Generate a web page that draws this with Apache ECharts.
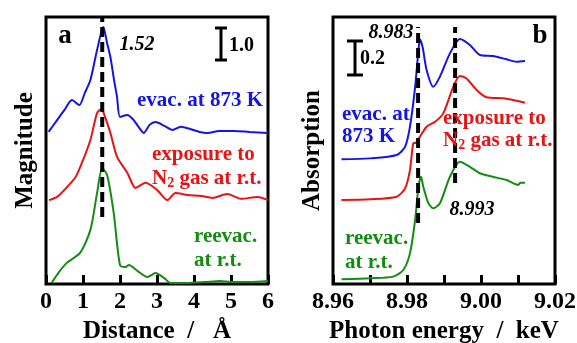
<!DOCTYPE html>
<html><head><meta charset="utf-8">
<script src="https://cdn.jsdelivr.net/npm/echarts@6/dist/echarts.min.js"></script>
<style>html,body{margin:0;padding:0;background:#fff}#c{width:577px;height:343px}</style>
</head><body><div id="c"></div><script>
// Panel a: radial distribution (Distance / Å)
const blueAX = [0.07,0.3,0.5,0.7,0.9,1.05,1.2,1.38,1.55,1.65,1.74,1.84,1.92,2.0,2.2,2.37,2.5,2.64,2.8,2.96,3.2,3.42,3.64,3.9,4.15,4.37,4.68,5.09,5.5,6.0];
const blueAY = [4.75,5.12,5.44,5.75,5.59,5.97,6.37,7.31,8.03,7.53,7.09,6.37,5.84,5.22,5.28,5.12,4.91,4.72,4.97,5.06,4.94,4.81,4.91,4.84,4.75,4.72,4.78,4.78,4.75,4.72];
const redAX = [0.08,0.3,0.57,0.8,0.97,1.2,1.38,1.5,1.55,1.74,1.92,2.2,2.42,2.69,3.0,3.28,3.5,3.83,4.2,4.5,4.9,5.27,5.72,6.0];
const redAY = [2.62,2.72,3.03,3.34,3.78,4.5,5.34,5.47,5.37,4.72,3.97,3.47,3.0,3.16,2.94,2.62,2.84,2.78,2.75,2.69,2.81,2.66,2.72,2.62];
const greenAX = [0.15,0.35,0.56,0.92,1.2,1.38,1.52,1.65,1.83,2.0,2.15,2.24,2.47,2.74,2.96,3.19,3.37,3.8,4.3,4.7,5.0,5.5,6.0];
const greenAY = [0.03,0.37,0.66,0.97,1.69,2.84,3.62,3.41,2.22,0.59,0.53,0.59,0.41,0.22,0.34,0.19,0.03,0.03,0.06,0.09,0.06,0.06,0.09];
const peakA = 1.52;
const peakASpan = [2.09, 8.34];

// Panel b: XANES (Photon energy / keV)
const blueBX = [8.9623,8.970,8.9772,8.9795,8.9808,8.9822,8.9831,8.9835,8.9842,8.9853,8.9871,8.9889,8.9916,8.9943,8.997,8.9997,9.0032,9.0069,9.0096,9.0119];
const blueBY = [0.713,0.718,0.737,0.785,0.899,1.127,1.337,1.398,1.356,1.223,1.127,1.185,1.318,1.400,1.366,1.309,1.303,1.284,1.270,1.274];
const redBX = [8.9623,8.970,8.9772,8.9795,8.9808,8.9817,8.9824,8.9835,8.9853,8.9876,8.9898,8.9925,8.9943,8.9961,8.9988,9.0015,9.006,9.0096,9.0119];
const redBY = [0.480,0.484,0.499,0.547,0.651,0.804,0.807,0.842,0.899,0.927,0.975,1.127,1.189,1.175,1.109,1.067,1.061,1.047,1.036];
const greenBX = [8.9623,8.970,8.9763,8.979,8.9808,8.9822,8.9831,8.9838,8.9844,8.9858,8.9871,8.9889,8.9916,8.9943,8.997,8.9997,9.0032,9.0069,9.0101,9.0106,9.0119];
const greenBY = [0.027,0.033,0.042,0.080,0.175,0.366,0.556,0.613,0.556,0.461,0.433,0.461,0.613,0.699,0.670,0.633,0.613,0.594,0.566,0.579,0.579];
const edgeB1 = 8.983, edgeB1Span = [0.349, 1.469];
const edgeB2 = 8.993, edgeB2Span = [0.577, 1.469];

const xTicksA = {min:0, max:6, interval:1};
const xTicksB = {min:8.96, max:9.02, interval:0.01};

const BLUE = '#1414e6', RED = '#e61414', GREEN = '#148c14';
const FF = '"Liberation Serif","Times New Roman",serif';
const zip = (xs, ys) => xs.map((x,i)=>[x, ys[i]]);

function curve(data, color, idx){
  return {type:'line', data, xAxisIndex:idx, yAxisIndex:idx, showSymbol:false, smooth:0.25,
    lineStyle:{color, width:2}, silent:true, z:3};
}
function dash(x, span, idx){
  return {type:'line', data:[[x, span[0]],[x, span[1]]], xAxisIndex:idx, yAxisIndex:idx, showSymbol:false,
    lineStyle:{color:'#000', width:4, type:[10,5]}, silent:true, z:4};
}
const axLabel = {color:'#000', fontFamily:FF, fontWeight:'bold', fontSize:24, margin:6};
const axName = {color:'#000', fontFamily:FF, fontWeight:'bold', fontSize:25};

const chart = echarts.init(document.getElementById('c'), null, {renderer:'canvas'});
function T(text, x, y, opt){
  return Object.assign({type:'text', z:10, style:Object.assign({text, x, y, fill:'#000',
    font:'bold 21px '+FF, align:'left', verticalAlign:'middle'}, opt||{})});
}
function sub(color){
  return {n:{fontFamily:FF, fontWeight:'bold', fontSize:21, lineHeight:23, fill:color},
          s:{fontFamily:FF, fontWeight:'bold', fontSize:14, verticalAlign:'bottom', fill:color}};
}
function scaleBar(x, y1, y2, half){
  return [
    {type:'line', shape:{x1:x,y1:y1,x2:x,y2:y2}, style:{stroke:'#000', lineWidth:3}, z:10},
    {type:'line', shape:{x1:x-half,y1:y1,x2:x+half,y2:y1}, style:{stroke:'#000', lineWidth:3}, z:10},
    {type:'line', shape:{x1:x-half,y1:y2,x2:x+half,y2:y2}, style:{stroke:'#000', lineWidth:3}, z:10}
  ];
}

chart.setOption({
  animation:false,
  backgroundColor:'#fff',
  grid:[
    {left:46, top:17, width:222, height:267, show:true, borderColor:'#000', borderWidth:3, outerBoundsMode:'none', containLabel:false},
    {left:333, top:17, width:222, height:267, show:true, borderColor:'#000', borderWidth:3, outerBoundsMode:'none', containLabel:false}
  ],
  xAxis:[
    {type:'value', gridIndex:0, min:xTicksA.min, max:xTicksA.max, interval:xTicksA.interval,
     axisLine:{show:false}, splitLine:{show:false},
     axisTick:{inside:true, length:9, lineStyle:{color:'#000', width:3}},
     axisLabel:Object.assign({}, axLabel, {formatter:v=>String(v)}),
     name:'Distance  /   Å', nameLocation:'middle', nameGap:16, nameTextStyle:axName},
    {type:'value', gridIndex:1, min:xTicksB.min, max:xTicksB.max, interval:xTicksB.interval,
     axisLine:{show:false}, splitLine:{show:false},
     axisTick:{inside:true, length:9, lineStyle:{color:'#000', width:3}},
     axisLabel:Object.assign({}, axLabel, {formatter:v=>{const k=Math.round(v*100); return k%2===0 ? (k/100).toFixed(2) : '';}}),
     name:'Photon energy  /  keV', nameLocation:'middle', nameGap:16, nameTextStyle:axName}
  ],
  yAxis:[
    {type:'value', gridIndex:0, min:0, max:8.34, axisLine:{show:false}, axisTick:{show:false},
     axisLabel:{show:false}, splitLine:{show:false},
     name:'Magnitude', nameLocation:'middle', nameGap:8, nameTextStyle:axName},
    {type:'value', gridIndex:1, min:0, max:1.526, axisLine:{show:false}, axisTick:{show:false},
     axisLabel:{show:false}, splitLine:{show:false},
     name:'Absorption', nameLocation:'middle', nameGap:8, nameTextStyle:axName}
  ],
  series:[
    dash(peakA, peakASpan, 0),
    curve(zip(blueAX, blueAY), BLUE, 0),
    curve(zip(redAX, redAY), RED, 0),
    curve(zip(greenAX, greenAY), GREEN, 0),
    dash(edgeB1, edgeB1Span, 1),
    dash(edgeB2, edgeB2Span, 1),
    curve(zip(blueBX, blueBY), BLUE, 1),
    curve(zip(redBX, redBY), RED, 1),
    curve(zip(greenBX, greenBY), GREEN, 1)
  ],
  graphic:[
    T('a', 65, 36, {font:'bold 27px '+FF, align:'center'}),
    T('1.52', 137, 45, {font:'italic bold 20px '+FF, align:'center'}),
    ...scaleBar(221, 28, 60, 6),
    T('1.0', 229, 46, {font:'bold 20px '+FF}),
    T('evac. at 873 K', 137, 101, {fill:BLUE}),
    T('exposure to', 152, 155, {fill:RED}),
    T('{n|N}{s|2}{n| gas at r.t.}', 152, 179, {rich:sub(RED)}),
    T('reevac.', 194, 237, {fill:GREEN}),
    T('at r.t.', 194, 261, {fill:GREEN}),

    T('8.983', 391, 33, {font:'italic bold 20px '+FF, align:'center'}),
    T('b', 540, 36, {font:'bold 27px '+FF, align:'center'}),
    ...scaleBar(355, 41, 75, 8),
    T('0.2', 360, 59, {font:'bold 20px '+FF}),
    T('evac. at', 342, 115, {fill:BLUE}),
    T('873 K', 342, 137, {fill:BLUE}),
    T('exposure to', 443, 119, {fill:RED}),
    T('{n|N}{s|2}{n| gas at r.t.}', 443, 141, {rich:sub(RED)}),
    T('8.993', 472, 210, {font:'italic bold 20px '+FF, align:'center'}),
    T('reevac.', 345, 239, {fill:GREEN}),
    T('at r.t.', 345, 263, {fill:GREEN})
  ]
});
</script></body></html>
